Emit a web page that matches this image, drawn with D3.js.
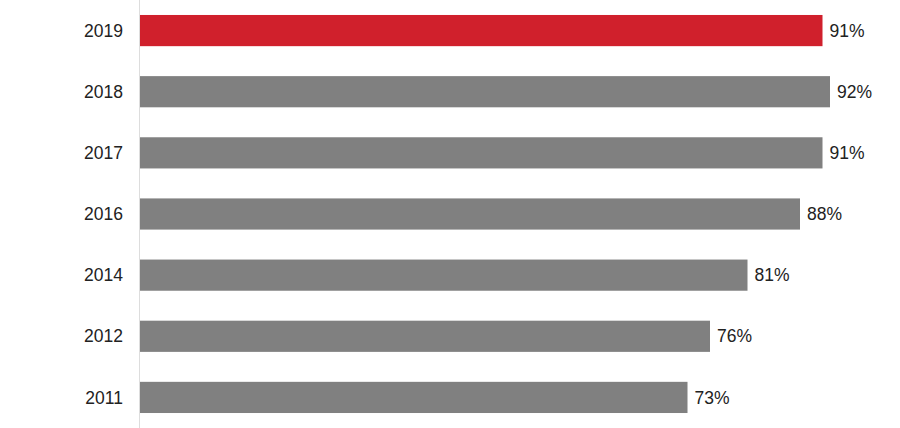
<!DOCTYPE html>
<html>
<head>
<meta charset="utf-8">
<script src="https://cdn.jsdelivr.net/npm/d3@7"></script>
<style>
  body { margin: 0; background: #fff; }
  svg text { font-family: "Liberation Sans", Arial, sans-serif; fill: #222; }
</style>
</head>
<body>
<svg id="chart" width="900" height="428"></svg>
<script>
const years = ['2019', '2018', '2017', '2016', '2014', '2012', '2011'];
const values = [91, 92, 91, 88, 81, 76, 73];
const highlight = '2019';

const svg = d3.select('#chart');
const w = +svg.attr('width'), h = +svg.attr('height');
const left = 140;

const x = d3.scaleLinear().domain([0, 100]).range([left, 890]);
const y = d3.scaleBand().domain(years).range([0, 428])
    .paddingInner(0.49).paddingOuter(0.245);

const rows = years.map((yr, i) => ({ year: yr, value: values[i] }));

// axis line
svg.append('line')
    .attr('x1', left - 0.5).attr('x2', left - 0.5)
    .attr('y1', 0).attr('y2', h)
    .attr('stroke', '#dddddd').attr('stroke-width', 1);

svg.selectAll('rect.bar').data(rows).enter().append('rect')
    .attr('class', 'bar')
    .attr('x', x(0))
    .attr('y', d => y(d.year))
    .attr('width', d => x(d.value) - x(0))
    .attr('height', y.bandwidth())
    .attr('fill', d => d.year === highlight ? '#d0202c' : '#808080');

svg.selectAll('text.year').data(rows).enter().append('text')
    .attr('class', 'year')
    .attr('x', 123)
    .attr('y', d => y(d.year) + y.bandwidth() / 2)
    .attr('dy', '0.35em')
    .attr('text-anchor', 'end')
    .attr('font-size', 17.5)
    .text(d => d.year);

svg.selectAll('text.val').data(rows).enter().append('text')
    .attr('class', 'val')
    .attr('x', d => x(d.value) + 7)
    .attr('y', d => y(d.year) + y.bandwidth() / 2)
    .attr('dy', '0.35em')
    .attr('font-size', 17.5)
    .text(d => d.value + '%');
</script>
</body>
</html>
